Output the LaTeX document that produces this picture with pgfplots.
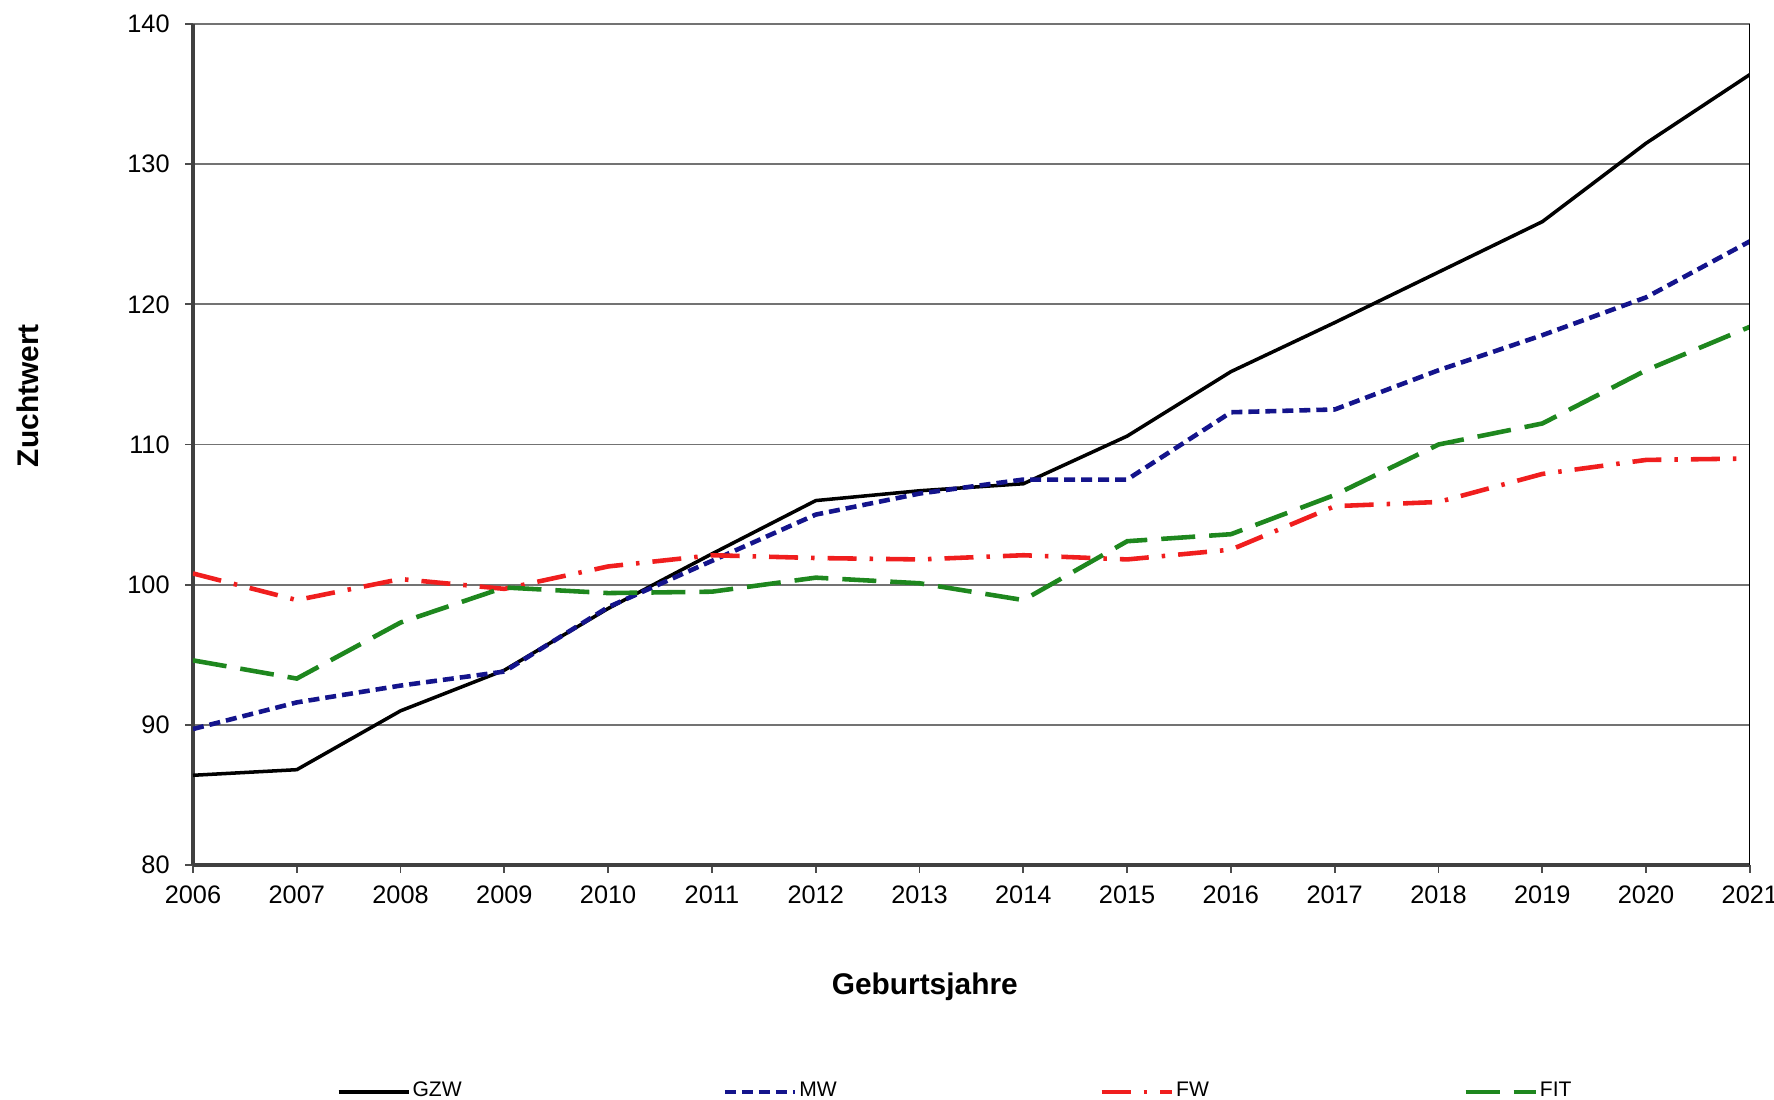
\documentclass[border=0pt]{standalone}
\usepackage{pgfplots}
\pgfplotsset{compat=1.18}
\usepackage{fontspec}
\setmainfont{Liberation Sans}
\definecolor{mwblue}{RGB}{20,20,140}
\definecolor{fwred}{RGB}{240,30,30}
\definecolor{fitgreen}{RGB}{30,135,30}
\begin{document}
\begin{tikzpicture}
\path[use as bounding box] (-19.3mm,-23.5mm) rectangle (158.1mm,86.5mm);
\begin{axis}[
  scale only axis, width=155.7mm, height=84.1mm,
  xmin=2006, xmax=2021, ymin=80, ymax=140,
  xtick={2006,2007,...,2021}, ytick={80,90,...,140},
  xticklabels={2006,2007,2008,2009,2010,2011,2012,2013,2014,2015,2016,2017,2018,2019,2020,2021},
  yticklabels={80,90,100,110,120,130,140},
  ticklabel style={font=\fontsize{7.2}{8.5}\selectfont},
  axis lines=left,
  axis line style={-, draw=black!75, line width=0.9pt},
  tick align=outside, major tick length=0.8mm,
  tick style={black!70, line width=0.5pt},
  ymajorgrids, grid style={black!55, line width=0.55pt},
  xticklabel style={yshift=0mm},
  yticklabel style={xshift=-0.3mm},
  xlabel={\fontsize{8.5}{10}\selectfont\bfseries Geburtsjahre},
  xlabel style={at={(axis description cs:0.47,-0.1445)}, anchor=center},
  ylabel={\fontsize{8.5}{10}\selectfont\bfseries Zuchtwert},
  ylabel style={at={(axis description cs:-0.106,0.558)}, anchor=center},
  legend columns=4,
  legend style={at={(axis description cs:0.092,-0.27)}, anchor=west, draw=none, fill=none,
    font=\fontsize{6}{7}\selectfont, inner xsep=0pt,
    nodes={inner xsep=0.6pt}},
  legend image code/.code={\draw[#1] (0mm,0mm) -- (7mm,0mm);},
]
\addplot[black, line width=1pt] coordinates {
(2006,86.4) (2007,86.8) (2008,91.0) (2009,93.9) (2010,98.3) (2011,102.2) (2012,106.0) (2013,106.7)
(2014,107.2) (2015,110.6) (2016,115.2) (2017,118.7) (2018,122.3) (2019,125.9) (2020,131.5) (2021,136.4)};
\addlegendentry{\makebox[30.8mm][l]{GZW}}
\addplot[mwblue, line width=1.3pt, dash pattern=on 1.1mm off 0.6mm] coordinates {
(2006,89.7) (2007,91.6) (2008,92.8) (2009,93.8) (2010,98.4) (2011,101.7) (2012,105.0) (2013,106.5)
(2014,107.5) (2015,107.5) (2016,112.3) (2017,112.5) (2018,115.3) (2019,117.8) (2020,120.5) (2021,124.5)};
\addlegendentry{\makebox[29.8mm][l]{MW}}
\addplot[fwred, line width=1.3pt, dash pattern=on 2.9mm off 1.3mm on 0.35mm off 1.3mm] coordinates {
(2006,100.8) (2007,98.9) (2008,100.4) (2009,99.7) (2010,101.3) (2011,102.1) (2012,101.9) (2013,101.8)
(2014,102.1) (2015,101.8) (2016,102.5) (2017,105.6) (2018,105.9) (2019,107.9) (2020,108.9) (2021,109.0)};
\addlegendentry{\makebox[28.5mm][l]{FW}}
\addplot[fitgreen, line width=1.3pt, dash pattern=on 3.4mm off 1.4mm] coordinates {
(2006,94.6) (2007,93.3) (2008,97.3) (2009,99.8) (2010,99.4) (2011,99.5) (2012,100.5) (2013,100.1)
(2014,98.9) (2015,103.1) (2016,103.6) (2017,106.4) (2018,110.0) (2019,111.5) (2020,115.3) (2021,118.4)};
\addlegendentry{FIT}
\draw[black, line width=0.7pt] (rel axis cs:1,0) -- (rel axis cs:1,1);
\end{axis}
\end{tikzpicture}
\end{document}
